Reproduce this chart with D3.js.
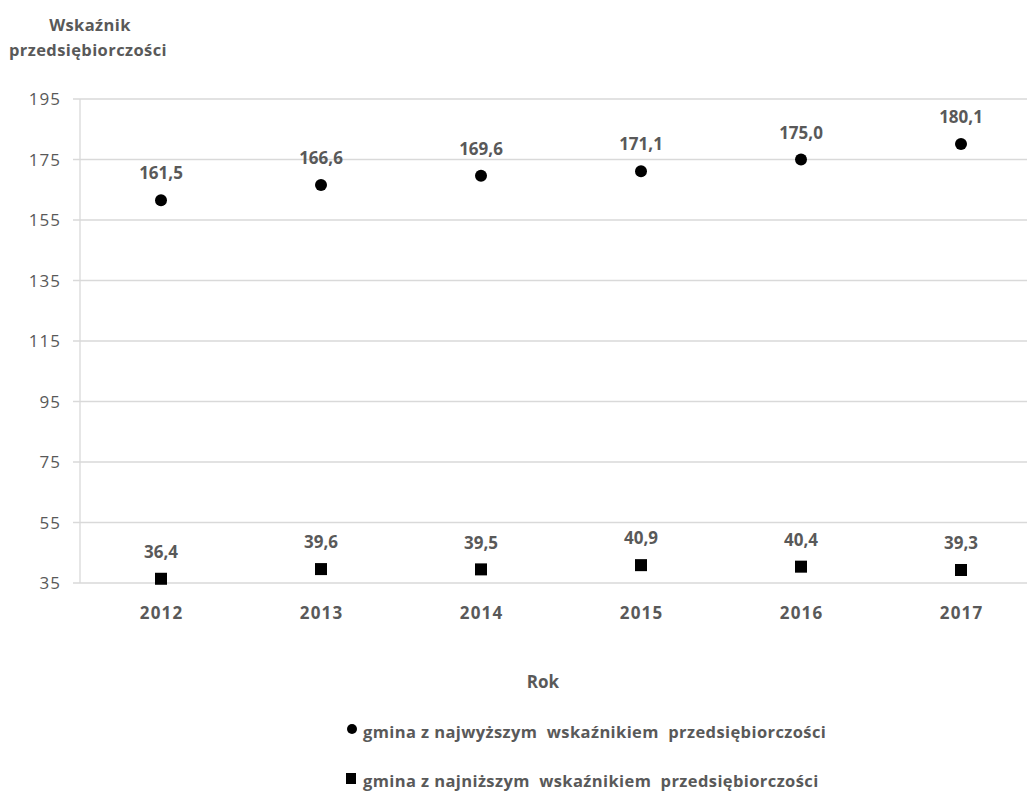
<!DOCTYPE html>
<html><head><meta charset="utf-8">
<script src="https://cdn.jsdelivr.net/npm/d3@7"></script>
<style>
body{margin:0;background:#fff;}
svg text{font-family:"Open Sans",sans-serif;fill:#595959;white-space:pre;}
</style></head>
<body><svg id="c" width="1027" height="794"></svg>
<script>
const years = ["2012","2013","2014","2015","2016","2017"];
const highest = [161.5,166.6,169.6,171.1,175.0,180.1];
const lowest = [36.4,39.6,39.5,40.9,40.4,39.3];
const yTicks = [35,55,75,95,115,135,155,175,195];
const seriesNames = ["gmina z najwyższym  wskaźnikiem  przedsiębiorczości","gmina z najniższym  wskaźnikiem  przedsiębiorczości"];
const yTitle = ["Wskaźnik","przedsiębiorczości"];
const xTitle = "Rok";

const svg = d3.select("#c");
const x = d3.scaleBand().domain(years).range([81,1041]);
const y = d3.scaleLinear().domain([35,195]).range([583,99]);
const fmt = v => v.toFixed(1).replace(".", ",");

svg.append("g").selectAll("line").data(yTicks).join("line")
  .attr("x1",73).attr("x2",1027).attr("y1",d=>y(d)).attr("y2",d=>y(d))
  .attr("stroke","#d9d9d9").attr("stroke-width",1.3);
svg.append("line").attr("x1",80).attr("x2",80).attr("y1",y(195)).attr("y2",y(35))
  .attr("stroke","#d9d9d9").attr("stroke-width",1.3);

svg.append("g").selectAll("text").data(yTicks).join("text")
  .attr("x",61).attr("y",d=>y(d)).attr("dy","0.36em").attr("text-anchor","end")
  .style("font-size","17px").style("letter-spacing","1px").text(d=>d);

svg.append("g").selectAll("text").data(years).join("text")
  .attr("x",d=>x(d)+x.bandwidth()/2+0.6).attr("y",613).attr("dy","0.36em")
  .attr("text-anchor","middle").style("font-size","17px").style("letter-spacing","1.2px")
  .style("font-weight","bold").text(d=>d);

svg.append("text").attr("x",543).attr("y",682).attr("dy","0.36em").attr("text-anchor","middle")
  .style("font-size","17px").style("font-weight","bold").text(xTitle);
svg.append("text").attr("x",90).attr("y",25).attr("dy","0.36em").attr("text-anchor","middle")
  .style("font-size","16.5px").style("letter-spacing","0.4px").style("font-weight","bold").text(yTitle[0]);
svg.append("text").attr("x",88).attr("y",50).attr("dy","0.36em").attr("text-anchor","middle")
  .style("font-size","16.5px").style("letter-spacing","0.4px").style("font-weight","bold").text(yTitle[1]);

const cx = (d,i) => x(years[i]) + x.bandwidth()/2;
svg.append("g").selectAll("circle").data(highest).join("circle")
  .attr("cx",cx).attr("cy",d=>y(d)).attr("r",6).attr("fill","#000");
svg.append("g").selectAll("rect").data(lowest).join("rect")
  .attr("x",(d,i)=>cx(d,i)-6).attr("y",d=>y(d)-6).attr("width",12).attr("height",12).attr("fill","#000");
svg.append("g").selectAll("text").data(highest).join("text")
  .attr("x",cx).attr("y",d=>y(d)-27).attr("dy","0.36em").attr("text-anchor","middle")
  .style("font-size","17px").style("font-weight","bold").text(fmt);
svg.append("g").selectAll("text").data(lowest).join("text")
  .attr("x",cx).attr("y",d=>y(d)-27).attr("dy","0.36em").attr("text-anchor","middle")
  .style("font-size","17px").style("font-weight","bold").text(fmt);

const lg = svg.append("g");
lg.append("circle").attr("cx",352).attr("cy",729).attr("r",5).attr("fill","#000");
lg.append("text").attr("x",363).attr("y",732).attr("dy","0.36em")
  .style("font-size","16.5px").style("letter-spacing","0.4px").style("font-weight","bold").text(seriesNames[0]);
lg.append("rect").attr("x",346).attr("y",773).attr("width",10).attr("height",11).attr("fill","#000");
lg.append("text").attr("x",363).attr("y",781).attr("dy","0.36em")
  .style("font-size","16.5px").style("letter-spacing","0.4px").style("font-weight","bold").text(seriesNames[1]);
</script></body></html>
